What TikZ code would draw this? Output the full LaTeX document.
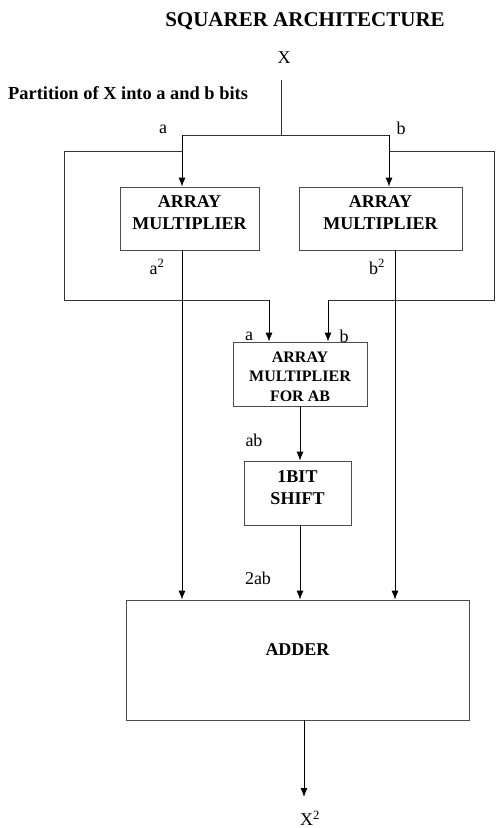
\documentclass[tikz,border=0pt]{standalone}
\usepackage{fontspec}
\setmainfont{Liberation Serif}
\usetikzlibrary{arrows.meta}

\begin{document}
\begin{tikzpicture}[x=1pt, y=-1pt,
	wire/.style={ draw=black!80, line width=0.8pt },
	arrow/.style={ draw=black, line width=0.8pt, -{Latex[length=9pt,width=7pt]} },
	block/.style={ draw=black!70, line width=0.8pt, inner sep=0pt },
	blocktext/.style={ align=center, inner sep=0pt, font=\fontsize{18}{22}\selectfont\bfseries },
	lbl/.style={ inner sep=0pt, font=\fontsize{18}{20}\selectfont }
]
\useasboundingbox (0,0) rectangle (496,828);

\node at (305,21) (title) [lbl, font=\fontsize{21}{24}\selectfont\bfseries] {SQUARER ARCHITECTURE};
\node at (284,58) (xin) [lbl] {X};
\node at (8,93) (part) [lbl, anchor=west, font=\fontsize{18.4}{20}\selectfont\bfseries] {Partition of X into a and b bits};

\node at (189.5,218.5) (m1) [block, minimum width=139pt, minimum height=63pt] {};
\node at (380.5,218.5) (m2) [block, minimum width=163pt, minimum height=63pt] {};
\node at (300,374) (mab) [block, minimum width=134pt, minimum height=64pt] {};
\node at (297.5,493) (sh) [block, minimum width=107pt, minimum height=64pt] {};
\node at (297.5,660) (add) [block, minimum width=343pt, minimum height=120pt] {};

\node at ([yshift=5.5pt]m1.center) (m1t) [blocktext] {ARRAY\\MULTIPLIER};
\node at ([yshift=5.5pt]m2.center) (m2t) [blocktext] {ARRAY\\MULTIPLIER};
\node at ([yshift=-2.5pt]mab.center) (mabt) [blocktext, font=\fontsize{16}{19.5}\selectfont\bfseries] {ARRAY\\MULTIPLIER\\FOR AB};
\node at ([yshift=5.5pt]sh.center) (sht) [blocktext] {1BIT\\SHIFT};
\node at ([yshift=10pt]add.center) (addt) [blocktext] {ADDER};

\node at (163,129) (la) [lbl] {a};
\node at (401,128) (lb) [lbl] {b};
\node at (157,267) (lasq) [lbl] {a\textsuperscript{2}};
\node at (377,267) (lbsq) [lbl] {b\textsuperscript{2}};
\node at (249,336) (lma) [lbl] {a};
\node at (344,336) (lmb) [lbl] {b};
\node at (254,440) (lab) [lbl] {ab};
\node at (258,578) (l2ab) [lbl] {2ab};
\node at (310,818) (lout) [lbl] {X\textsuperscript{2}};

\coordinate (xtop) at (281,80);
\coordinate (split) at (281,135);
\coordinate (sa) at (182,135);
\coordinate (sb) at (389,135);
\coordinate (fa) at (182,151);
\coordinate (fb) at (389,151);
\coordinate (lc) at (64,300);
\coordinate (rc) at (494,300);
\coordinate (ina) at (269,300);
\coordinate (inb) at (328,300);
\coordinate (bo) at (395,0);
\coordinate (out) at (304,797);

\draw[wire] (xtop) -- (split);
\draw[wire] (sa) -- (sb);
\draw[arrow] (sa) -- (sa |- m1.north);
\draw[arrow] (sb) -- (sb |- m2.north);
\draw[wire] (fa) -| (lc) -- (ina);
\draw[arrow] (ina) -- (ina |- mab.north);
\draw[wire] (fb) -| (rc) -- (inb);
\draw[arrow] (inb) -- (inb |- mab.north);
\draw[arrow] (sa |- m1.south) -- (sa |- add.north);
\draw[arrow] (bo |- m2.south) -- (bo |- add.north);
\draw[arrow] (mab.south) -- (mab.south |- sh.north);
\draw[arrow] (mab.south |- sh.south) -- (mab.south |- add.north);
\draw[arrow] (out |- add.south) -- (out);

\end{tikzpicture}
\end{document}
